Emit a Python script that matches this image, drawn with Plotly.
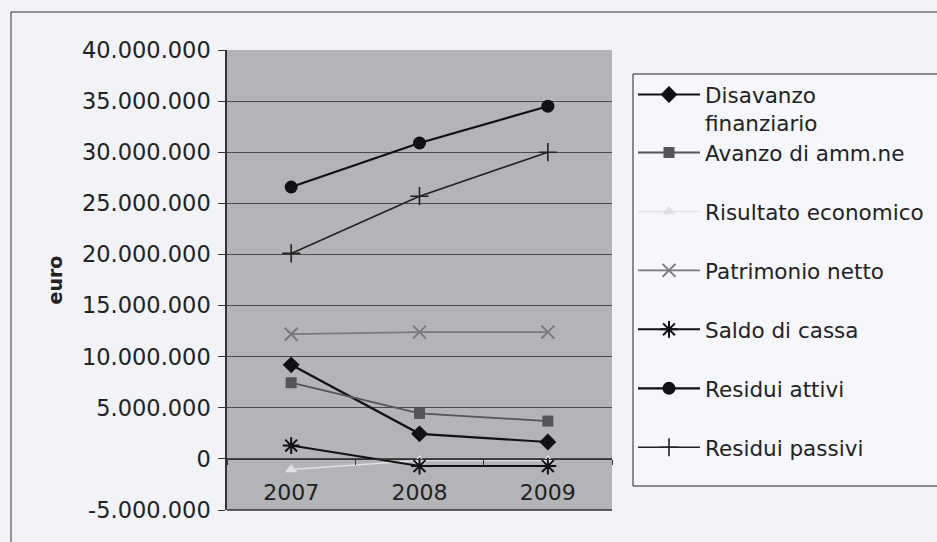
import plotly.graph_objects as go

years = ["2007", "2008", "2009"]
disavanzo = [9200000, 2450000, 1650000]
avanzo = [7450000, 4450000, 3700000]
risultato = [-1050000, -150000, -150000]
patrimonio = [12200000, 12400000, 12400000]
saldo = [1300000, -700000, -700000]
res_attivi = [26600000, 30900000, 34500000]
res_passivi = [20100000, 25700000, 30000000]

names = ["Disavanzo<br>finanziario", "Avanzo di amm.ne", "Risultato economico",
         "Patrimonio netto", "Saldo di cassa", "Residui attivi", "Residui passivi"]
y_tickvals = [40000000, 35000000, 30000000, 25000000, 20000000, 15000000,
              10000000, 5000000, 0, -5000000]
y_ticktext = ["40.000.000", "35.000.000", "30.000.000", "25.000.000", "20.000.000",
              "15.000.000", "10.000.000", "5.000.000", "0", "-5.000.000"]

series = [disavanzo, avanzo, risultato, patrimonio, saldo, res_attivi, res_passivi]
styles = [
    dict(color="#111111", symbol="diamond", size=13, width=2.2, mline=0),
    dict(color="#555555", symbol="square", size=11, width=1.8, mline=0),
    dict(color="#dfe1e5", symbol="triangle-up", size=11, width=1.5, mline=0),
    dict(color="#7a7a7a", symbol="x-thin-open", size=13, width=1.8, mline=2),
    dict(color="#111111", symbol="asterisk-open", size=14, width=2.0, mline=2),
    dict(color="#111111", symbol="circle", size=13, width=2.2, mline=0),
    dict(color="#222222", symbol="cross-thin-open", size=13, width=1.6, mline=1.6),
]

fig = go.Figure()
for i, (name, vals, st) in enumerate(zip(names, series, styles)):
    fig.add_trace(go.Scatter(
        x=years, y=vals, name=name, mode="lines+markers",
        line=dict(color=st["color"], width=st["width"]),
        marker=dict(symbol=st["symbol"], size=st["size"], color=st["color"],
                    line=dict(color=st["color"], width=st["mline"])),
        legendgroup=name,
        legend="legend" if i == 0 else "legend2",
    ))

W, H = 937, 542
L, R, T, B = 227, 612, 50, 510

def px(x):
    return (x - L) / (R - L)

def py(y):
    return (B - y) / (B - T)

legend_font = dict(family="DejaVu Sans", size=21.5, color="#222222")
legend_common = dict(
    xanchor="left", yanchor="top",
    bgcolor="rgba(0,0,0,0)", borderwidth=0,
    font=legend_font, traceorder="grouped", tracegroupgap=28,
    valign="top", itemwidth=62,
)

fig.update_layout(
    width=W, height=H,
    margin=dict(l=L, r=W - R, t=T, b=H - B, autoexpand=False),
    paper_bgcolor="#f1f3f7",
    plot_bgcolor="#b3b4b7",
    font=dict(family="DejaVu Sans", size=22, color="#222222"),
    showlegend=True,
    legend=dict(x=px(633), y=py(74), **legend_common),
    legend2=dict(x=px(633), y=py(132), **legend_common),
    xaxis=dict(
        type="category", range=[-0.5, 2.5],
        anchor="free", position=5 / 45,
        showline=True, linecolor="#333333", linewidth=1,
        showgrid=False, zeroline=False,
        ticks="outside", ticklen=5, tickcolor="#333333", tickson="boundaries",
        ticklabelstandoff=14,
        tickfont=dict(family="DejaVu Sans", size=22, color="#222222"),
    ),
    yaxis=dict(
        range=[-5000000, 40000000], domain=[0, 1],
        tickvals=y_tickvals, ticktext=y_ticktext,
        showgrid=True, gridcolor="#4a4a4a", gridwidth=1,
        zeroline=False,
        showline=True, linecolor="#333333", linewidth=1.5,
        ticks="outside", ticklen=7, tickcolor="#333333",
        ticklabelstandoff=3,
        tickfont=dict(family="DejaVu Sans", size=22.5, color="#222222"),
        title=dict(text="<b>euro</b>", standoff=14,
                   font=dict(family="DejaVu Sans", size=19, color="#222222")),
    ),
    shapes=[
        dict(type="rect", xref="paper", yref="paper",
             x0=px(11), y0=py(560), x1=px(960), y1=py(12),
             line=dict(color="#333333", width=1), fillcolor="rgba(0,0,0,0)",
             layer="below"),
        dict(type="rect", xref="paper", yref="paper",
             x0=px(633), y0=py(486), x1=px(950), y1=py(74),
             line=dict(color="#222222", width=1), fillcolor="#f6f7fa",
             layer="below"),
        dict(type="line", xref="paper", yref="paper",
             x0=0, x1=1, y0=0, y1=0,
             line=dict(color="#333333", width=1.5)),
    ],
)

fig.write_html("out.html", config={"displayModeBar": False},
               post_script="document.body.style.margin='0';")
